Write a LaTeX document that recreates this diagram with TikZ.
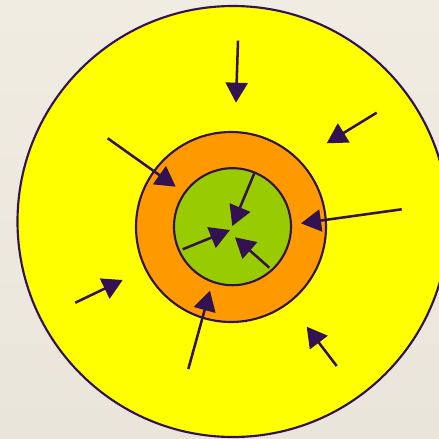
\documentclass[tikz,border=0pt]{standalone}
\usetikzlibrary{arrows.meta}
\definecolor{ink}{RGB}{50,18,80}
\definecolor{bgtop}{RGB}{240,236,226}
\definecolor{bgbot}{RGB}{233,229,219}
\definecolor{ylw}{RGB}{255,255,0}
\definecolor{org}{RGB}{255,153,0}
\definecolor{grn}{RGB}{153,204,0}
\tikzset{
  ring/.style={circle,draw=ink,line width=1.6pt,inner sep=0pt,minimum size=#1},
  flow/.style={draw=ink,line width=1.9pt,-{Triangle[length=15pt,width=16.5pt]}}
}
\begin{document}
\begin{tikzpicture}[x=0.75pt,y=-0.75pt]
\useasboundingbox (0,0) rectangle (439,439);
\clip (0,0) rectangle (439,439);
\shade[top color=bgtop,bottom color=bgbot] (0,0) rectangle (439,439);
\node[ring=431*0.75pt,fill=ylw] (outer) at (233,221.5) {};
\node[ring=190*0.75pt,fill=org] (mid) at (231,227) {};
\node[ring=117*0.75pt,fill=grn] (core) at (232.5,226.7) {};
% outer arrows
\coordinate (a1s) at (238,40.7);   \coordinate (a1e) at (236,102.7);
\coordinate (a2s) at (376.7,112.7); \coordinate (a2e) at (326.7,143.3);
\coordinate (a3s) at (107.7,138.3); \coordinate (a3e) at (175.7,186.7);
\coordinate (a4s) at (401.7,209.3); \coordinate (a4e) at (301,223.3);
\coordinate (a5s) at (75.3,302.7);  \coordinate (a5e) at (122.7,280);
\coordinate (a6s) at (188.3,369);   \coordinate (a6e) at (210,290.7);
\coordinate (a7s) at (336.7,366);   \coordinate (a7e) at (306.7,326.7);
% inner arrows
\coordinate (b1s) at (254.3,173.3); \coordinate (b1e) at (232.3,226);
\coordinate (b2s) at (182.7,249.3); \coordinate (b2e) at (230,230);
\coordinate (b3s) at (269.3,267.7); \coordinate (b3e) at (235,237.3);
\foreach \n in {a1,a2,a3,a4,a5,a6,a7,b1,b2,b3}
  \draw[flow] (\n s) -- (\n e);
\end{tikzpicture}
\end{document}
